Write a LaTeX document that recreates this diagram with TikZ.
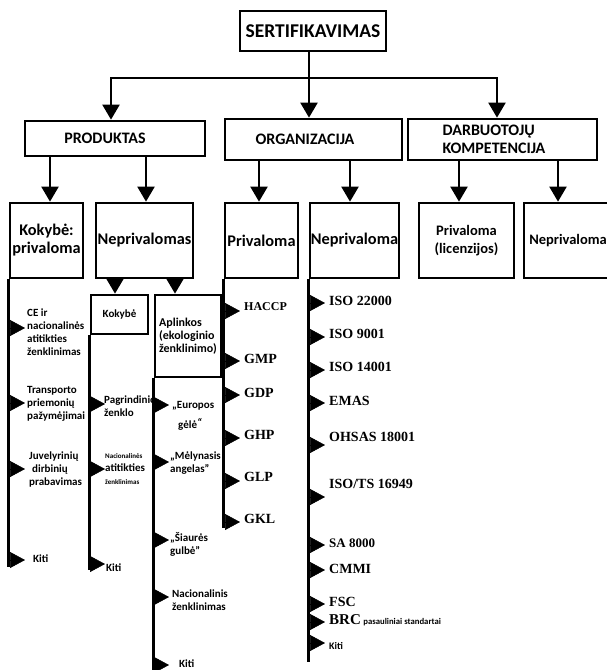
\documentclass[tikz,border=0pt]{standalone}
\usepackage{fontspec}
\setmainfont{Carlito}
\newfontfamily\tnr{Liberation Serif}
\usetikzlibrary{arrows.meta}

% font shortcuts
\newcommand\fTop{\bfseries\fontsize{19.5}{22}\selectfont}
\newcommand\fOne{\bfseries\fontsize{16}{18}\selectfont}
\newcommand\fTwo{\bfseries\fontsize{16.3}{18}\selectfont}
\newcommand\fLic{\bfseries\fontsize{14.5}{18}\selectfont}
\newcommand\fLeaf{\bfseries\fontsize{11}{13}\selectfont}
\newcommand\fApl{\bfseries\fontsize{12}{13}\selectfont}
\newcommand\fTiny{\bfseries\fontsize{7}{8}\selectfont}
\newcommand\fStd{\tnr\bfseries\fontsize{14}{16}\selectfont}

\begin{document}
\begin{tikzpicture}[x=1pt,y=-1pt,
  box/.style={draw, line width=2.7pt, inner sep=0pt, align=center},
  stem/.style={line width=2.2pt, line cap=rect},
  arr/.style={line width=2.2pt, -{Triangle[length=15pt,width=17pt]}},
  spine/.style={line width=2.9pt},
  side/.style={line width=0.5pt, -{Triangle[length=15pt,width=16pt]}},
  leaf/.style={inner sep=0pt, anchor=west, align=left, font=\fLeaf},
  std/.style={inner sep=0pt, anchor=west, font=\fStd}
]
\useasboundingbox (0,0) rectangle (607,670);

% ---- top level
\node[box, minimum width=146pt, minimum height=40pt, font=\fTop] (top) at (313,31) {SERTIFIKAVIMAS};

\node[box, minimum width=180pt, minimum height=35pt, font=\fOne] (prod) at (115,138.5) {PRODUKTAS\hspace*{20pt}};
\node[box, minimum width=177pt, minimum height=41pt, font=\fOne] (org) at (313.5,139.5) {ORGANIZACIJA\hspace*{17pt}};
\node[box, minimum width=189pt, minimum height=41pt, font=\fOne, align=left] (darb) at (502.5,139.5) {DARBUOTOJŲ\\KOMPETENCIJA\hspace*{17pt}};

\coordinate (hub) at (309,78);
\coordinate (hl) at (111,78);
\coordinate (hr) at (497,78);
\draw[stem] (top.south -| hub) -- (hub);
\draw[stem] (hl) -- (hr);
\draw[arr] (hl) -- (hl |- prod.north);
\draw[arr] (hub) -- (hub |- org.north);
\draw[arr] (hr) -- (hr |- darb.north);

% ---- second level
\node[box, minimum width=73pt, minimum height=75pt, font=\fTwo] (k1) at (46.5,240.5) {Kokybė:\\privaloma};
\node[box, minimum width=97pt, minimum height=75pt, font=\fTwo] (n1) at (144.5,240.5) {Neprivalomas};
\node[box, minimum width=73pt, minimum height=75pt, font=\fTwo] (p2) at (261.5,240.5) {Privaloma};
\node[box, minimum width=89pt, minimum height=75pt, font=\fTwo] (n2) at (354.5,240.5) {Neprivaloma};
\node[box, minimum width=95pt, minimum height=75pt, font=\fLic] (p3) at (466.5,240.5) {Privaloma\\(licenzijos)};
\node[box, minimum width=88pt, minimum height=75pt, font=\fLic] (n3) at (568,240.5) {Neprivaloma};

\draw[arr] (50,0 |- prod.south) -- (50,0 |- k1.north);
\draw[arr] (146,0 |- prod.south) -- (146,0 |- n1.north);
\draw[arr] (259,0 |- org.south) -- (259,0 |- p2.north);
\draw[arr] (350,0 |- org.south) -- (350,0 |- n2.north);
\draw[arr] (459,0 |- darb.south) -- (459,0 |- p3.north);
\draw[arr] (558,0 |- darb.south) -- (558,0 |- n3.north);

% ---- third level under "Neprivalomas"
\node[box, minimum width=57pt, minimum height=39pt, font=\fLeaf] (kok) at (119.5,314.5) {Kokybė};
\node[box, minimum width=66pt, minimum height=82pt, font=\fApl, align=left] (apl) at (188,336) {Aplinkos\\(ekologinio\\ženklinimo)};
\draw[arr] (115,0 |- n1.south) -- (115,0 |- kok.north);
\draw[arr] (175,0 |- n1.south) -- (175,0 |- apl.north);

% ---- vertical spines
\coordinate (e1) at (10,567);
\coordinate (e2) at (91,570);
\coordinate (e3) at (155,672);
\coordinate (e4) at (225,528);
\coordinate (e5) at (310,662);
\draw[spine] (k1.south west) -- (k1.south west |- e1);
\draw[spine] (kok.south west) -- (kok.south west |- e2);
\draw[spine] (apl.south west) -- (apl.south west |- e3);
\draw[spine] (p2.south west) -- (p2.south west |- e4);
\draw[spine] (n2.south west) -- (n2.south west |- e5);

% ---- column 1: Kokybė: privaloma
\coordinate (ta) at (25,328); \draw[side] (e1 |- ta) -- (ta);
\node[leaf] (la) at (27,332) {CE ir\\nacionalinės\\atitikties\\ženklinimas};
\coordinate (tb) at (25,403); \draw[side] (e1 |- tb) -- (tb);
\node[leaf] (lb) at (27,404) {Transporto\\priemonių\\pažymėjimai};
\coordinate (tc) at (25,469); \draw[side] (e1 |- tc) -- (tc);
\node[leaf] (lc) at (29,469) {Juvelyrinių\\\hspace*{3pt}dirbinių\\prabavimas};
\coordinate (td) at (25,560); \draw[side] (e1 |- td) -- (td);
\node[leaf] (ld) at (33,559) {Kiti};

% ---- column 2: Kokybė
\coordinate (te) at (105,404); \draw[side] (e2 |- te) -- (te);
\node[leaf] (le) at (104,406) {Pagrindinio\\ženklo};
\coordinate (tf) at (105,469); \draw[side] (e2 |- tf) -- (tf);
\node[leaf] (lf) at (105,469) {{\fTiny Nacionalinės}\\atitikties\\{\fTiny ženklinimas}};
\coordinate (tg) at (105,564); \draw[side] (e2 |- tg) -- (tg);
\node[leaf] (lg) at (106,568) {Kiti};

% ---- column 3: Aplinkos
\coordinate (th) at (169,405); \draw[side] (e3 |- th) -- (th);
\node[leaf] (lh) at (172,416) {„Europos\\[7pt]\hspace*{6pt}gėlė\raisebox{2pt}{\itshape “}};
\coordinate (ti) at (169,462); \draw[side] (e3 |- ti) -- (ti);
\node[leaf] (li) at (170,463) {„Mėlynasis\\angelas"};
\coordinate (tj) at (169,540); \draw[side] (e3 |- tj) -- (tj);
\node[leaf] (lj) at (170,544) {„Šiaurės\\gulbė"};
\coordinate (tk) at (169,597); \draw[side] (e3 |- tk) -- (tk);
\node[leaf] (lk) at (172,600) {Nacionalinis\\ženklinimas};
\coordinate (tl) at (169,665); \draw[side] (e3 |- tl) -- (tl);
\node[leaf] (ll) at (179,664) {Kiti};

% ---- column 4: Privaloma
\coordinate (tm) at (240,311); \draw[side] (e4 |- tm) -- (tm);
\node[std, font=\tnr\bfseries\fontsize{12}{14}\selectfont] (lm) at (244,307) {HACCP};
\coordinate (tn) at (240,361); \draw[side] (e4 |- tn) -- (tn);
\node[std] (ln) at (244,359) {GMP};
\coordinate (to) at (240,395); \draw[side] (e4 |- to) -- (to);
\node[std] (lo) at (244,393) {GDP};
\coordinate (tp) at (240,438); \draw[side] (e4 |- tp) -- (tp);
\node[std] (lp) at (244,435) {GHP};
\coordinate (tq) at (240,481); \draw[side] (e4 |- tq) -- (tq);
\node[std] (lq) at (244,477) {GLP};
\coordinate (tr) at (240,522); \draw[side] (e4 |- tr) -- (tr);
\node[std] (lr) at (244,519) {GKL};

% ---- column 5: Neprivaloma
\coordinate (s1) at (325,303); \draw[side] (e5 |- s1) -- (s1);
\node[std] (m1) at (329,301) {ISO 22000};
\coordinate (s2) at (325,337); \draw[side] (e5 |- s2) -- (s2);
\node[std] (m2) at (329,334) {ISO 9001};
\coordinate (s3) at (325,370); \draw[side] (e5 |- s3) -- (s3);
\node[std] (m3) at (329,367) {ISO 14001};
\coordinate (s4) at (325,403); \draw[side] (e5 |- s4) -- (s4);
\node[std] (m4) at (329,401) {EMAS};
\coordinate (s5) at (325,445); \draw[side] (e5 |- s5) -- (s5);
\node[std] (m5) at (329,437) {OHSAS 18001};
\coordinate (s6) at (325,497); \draw[side] (e5 |- s6) -- (s6);
\node[std] (m6) at (329,484) {ISO/TS 16949};
\coordinate (s7) at (325,545); \draw[side] (e5 |- s7) -- (s7);
\node[std, font=\tnr\bfseries\fontsize{13}{15}\selectfont] (m7) at (329,543) {SA 8000};
\coordinate (s8) at (325,570); \draw[side] (e5 |- s8) -- (s8);
\node[std] (m8) at (329,569) {CMMI};
\coordinate (s9) at (325,604); \draw[side] (e5 |- s9) -- (s9);
\node[std] (m9) at (329,602) {FSC};
\coordinate (s10) at (325,622); \draw[side] (e5 |- s10) -- (s10);
\node[std, font=\tnr\bfseries\fontsize{15}{17}\selectfont] (m10) at (329,620) {BRC\,{\normalfont\bfseries\fontsize{8.7}{10}\selectfont pasauliniai standartai}};
\coordinate (s11) at (325,643); \draw[side] (e5 |- s11) -- (s11);
\node[leaf, font=\bfseries\fontsize{10}{12}\selectfont] (m11) at (329,646) {Kiti};
\end{tikzpicture}
\end{document}
